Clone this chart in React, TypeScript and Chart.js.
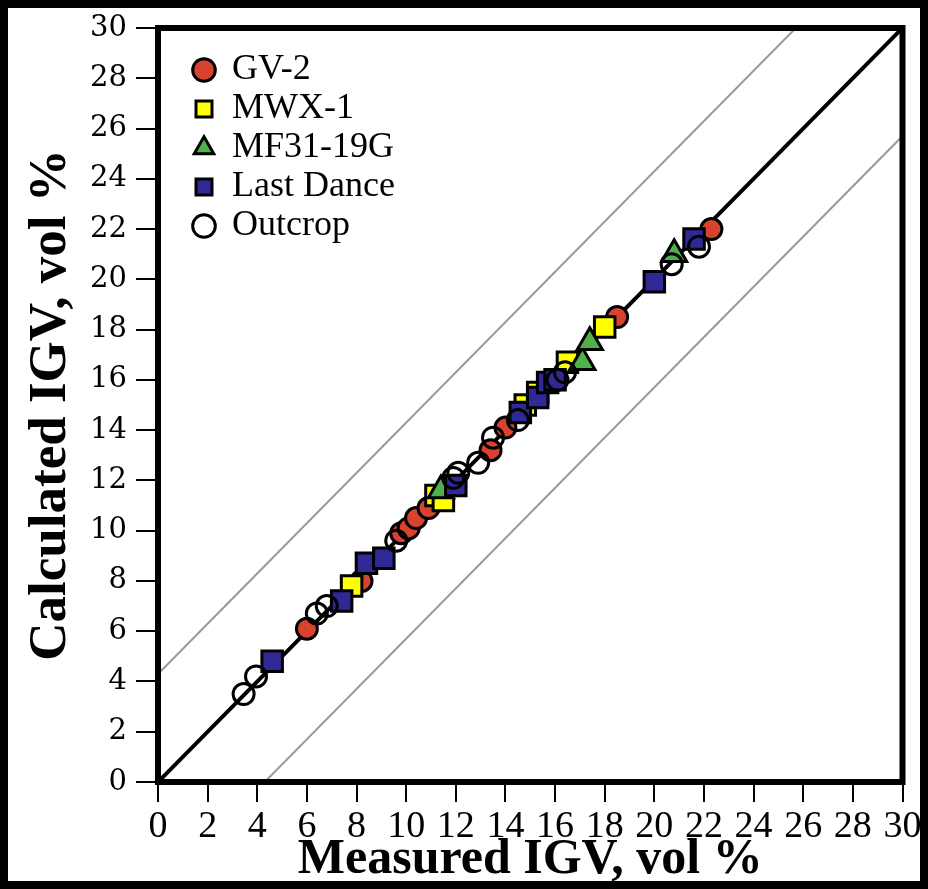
import React, { useEffect, useRef } from "react";
import { Chart, registerables } from "chart.js";

Chart.register(...registerables);

// ---- data ----
const seriesNames = ["GV-2", "MWX-1", "MF31-19G", "Last Dance", "Outcrop"];

const gvX = [6.0, 8.2, 9.8, 10.1, 10.4, 10.9, 13.4, 14.0, 18.5, 22.3];
const gvY = [6.1, 8.0, 9.9, 10.1, 10.5, 10.9, 13.2, 14.1, 18.5, 22.0];

const mwX = [7.8, 11.2, 11.5, 14.8, 15.3, 16.5, 18.0];
const mwY = [7.8, 11.4, 11.2, 15.0, 15.5, 16.7, 18.1];

const mfX = [11.4, 17.1, 17.4, 20.8];
const mfY = [11.6, 16.7, 17.5, 21.0];

const ldX = [4.6, 7.4, 8.4, 9.1, 12.0, 14.6, 15.3, 15.7, 16.0, 20.0, 21.6];
const ldY = [4.8, 7.2, 8.7, 8.9, 11.8, 14.7, 15.3, 15.9, 16.0, 19.9, 21.6];

const ocX = [3.45, 3.95, 6.4, 6.8, 9.6, 11.9, 12.1, 12.9, 13.5, 14.5, 16.1, 16.4, 20.7, 21.8];
const ocY = [3.5, 4.2, 6.7, 7.0, 9.6, 12.1, 12.3, 12.7, 13.7, 14.4, 16.0, 16.3, 20.6, 21.3];

const oneToOneX = [0, 30];
const oneToOneY = [0, 30];
const upperX = [0, 25.7];
const upperY = [4.3, 30];
const lowerX = [4.3, 30];
const lowerY = [0, 25.7];

const axisMin = 0;
const axisMax = 30;
const tickStep = 2;

const xTitle = "Measured IGV, vol %";
const yTitle = "Calculated IGV, vol %";

const pts = (xs: number[], ys: number[]) => xs.map((x, i) => ({ x, y: ys[i] }));

const framePlugin = {
  id: "frame",
  afterLayout(chart: any) {
    const lg = chart.legend;
    const ca = chart.chartArea;
    if (lg && ca) {
      lg.left = ca.left + 33;
      lg.top = ca.top + 21;
      lg.bottom = ca.bottom;
    }
  },
  afterDraw(chart: any) {
    const { ctx, chartArea } = chart;
    ctx.save();
    ctx.strokeStyle = "#000";
    ctx.lineWidth = 6;
    ctx.strokeRect(chartArea.left, chartArea.top, chartArea.right - chartArea.left, chartArea.bottom - chartArea.top);
    ctx.restore();
  },
};

export default function App() {
  const ref = useRef<HTMLCanvasElement | null>(null);

  useEffect(() => {
    document.body.style.background = "#000";
    const canvas = ref.current;
    if (!canvas) return;
    Chart.defaults.font.family = "'Liberation Serif', serif";
    Chart.defaults.color = "#000";

    const chart = new Chart(canvas, {
      type: "scatter",
      data: {
        datasets: [
          {
            label: seriesNames[0],
            data: pts(gvX, gvY),
            pointStyle: "circle",
            pointRadius: 10.5,
            backgroundColor: "#d8432f",
            borderColor: "#000",
            borderWidth: 3,
            order: 5,
          },
          {
            label: seriesNames[1],
            data: pts(mwX, mwY),
            pointStyle: "rect",
            pointRadius: 14.5,
            backgroundColor: "#ffff00",
            borderColor: "#000",
            borderWidth: 3,
            order: 4,
          },
          {
            label: seriesNames[2],
            data: pts(mfX, mfY),
            pointStyle: "triangle",
            pointRadius: 14.5,
            backgroundColor: "#52b04a",
            borderColor: "#000",
            borderWidth: 3,
            order: 3,
          },
          {
            label: seriesNames[3],
            data: pts(ldX, ldY),
            pointStyle: "rect",
            pointRadius: 14.5,
            backgroundColor: "#2f2896",
            borderColor: "#000",
            borderWidth: 3,
            order: 2,
          },
          {
            label: seriesNames[4],
            data: pts(ocX, ocY),
            pointStyle: "circle",
            pointRadius: 10.5,
            backgroundColor: "rgba(0,0,0,0)",
            borderColor: "#000",
            borderWidth: 3,
            order: 1,
          },
          {
            label: "1:1",
            data: pts(oneToOneX, oneToOneY),
            showLine: true,
            pointRadius: 0,
            borderColor: "#000",
            borderWidth: 4,
            order: 10,
          },
          {
            label: "upper",
            data: pts(upperX, upperY),
            showLine: true,
            pointRadius: 0,
            borderColor: "#9a9a9a",
            borderWidth: 2,
            order: 11,
          },
          {
            label: "lower",
            data: pts(lowerX, lowerY),
            showLine: true,
            pointRadius: 0,
            borderColor: "#9a9a9a",
            borderWidth: 2,
            order: 11,
          },
        ],
      },
      options: {
        animation: false,
        responsive: false,
        devicePixelRatio: 1,
        layout: { padding: { top: 20, right: 17, left: 0, bottom: 0 } },
        plugins: {
          tooltip: { enabled: false },
          legend: {
            position: "chartArea",
            align: "start",
            labels: {
              usePointStyle: true,
              boxWidth: 20,
              boxHeight: 16,
              padding: 3,
              color: "#000",
              font: { family: "'Liberation Serif', serif", size: 36 },
              filter: (item: any) => item.datasetIndex < 5,
              sort: (a: any, b: any) => a.datasetIndex - b.datasetIndex,
            },
          },
        },
        scales: {
          x: {
            type: "linear",
            min: axisMin,
            max: axisMax,
            border: { display: false },
            grid: { drawOnChartArea: false, drawTicks: true, tickLength: 20, color: "#000", lineWidth: 2 },
            ticks: {
              stepSize: tickStep,
              autoSkip: false,
              maxRotation: 0,
              padding: 2,
              color: "#000",
              font: { family: "'Liberation Serif', serif", size: 38 },
            },
            title: {
              display: true,
              text: xTitle,
              color: "#000",
              padding: { top: 0, bottom: 0 },
              font: { family: "'Liberation Serif', serif", size: 50, weight: "bold", lineHeight: 0.84 },
            },
            afterFit: (s: any) => {
              s.height = 99;
              s.paddingLeft = 0;
              s.paddingRight = 0;
            },
          },
          y: {
            type: "linear",
            min: axisMin,
            max: axisMax,
            border: { display: false },
            grid: { drawOnChartArea: false, drawTicks: true, tickLength: 22, color: "#000", lineWidth: 2 },
            ticks: {
              stepSize: tickStep,
              autoSkip: false,
              padding: 9,
              color: "#000",
              font: { family: "'DejaVu Serif', serif", size: 29 },
            },
            title: {
              display: true,
              text: yTitle,
              color: "#000",
              padding: { top: 17, bottom: 0 },
              font: { family: "'Liberation Serif', serif", size: 53, weight: "bold", lineHeight: 1 },
            },
            afterFit: (s: any) => {
              s.width = 150;
              s.paddingTop = 0;
              s.paddingBottom = 0;
            },
          },
        },
      },
      plugins: [framePlugin],
    } as any);

    return () => chart.destroy();
  }, []);

  return (
    <div style={{ width: 912, height: 873, background: "#fff" }}>
      <canvas ref={ref} width={912} height={873} style={{ display: "block", width: 912, height: 873 }} />
    </div>
  );
}
